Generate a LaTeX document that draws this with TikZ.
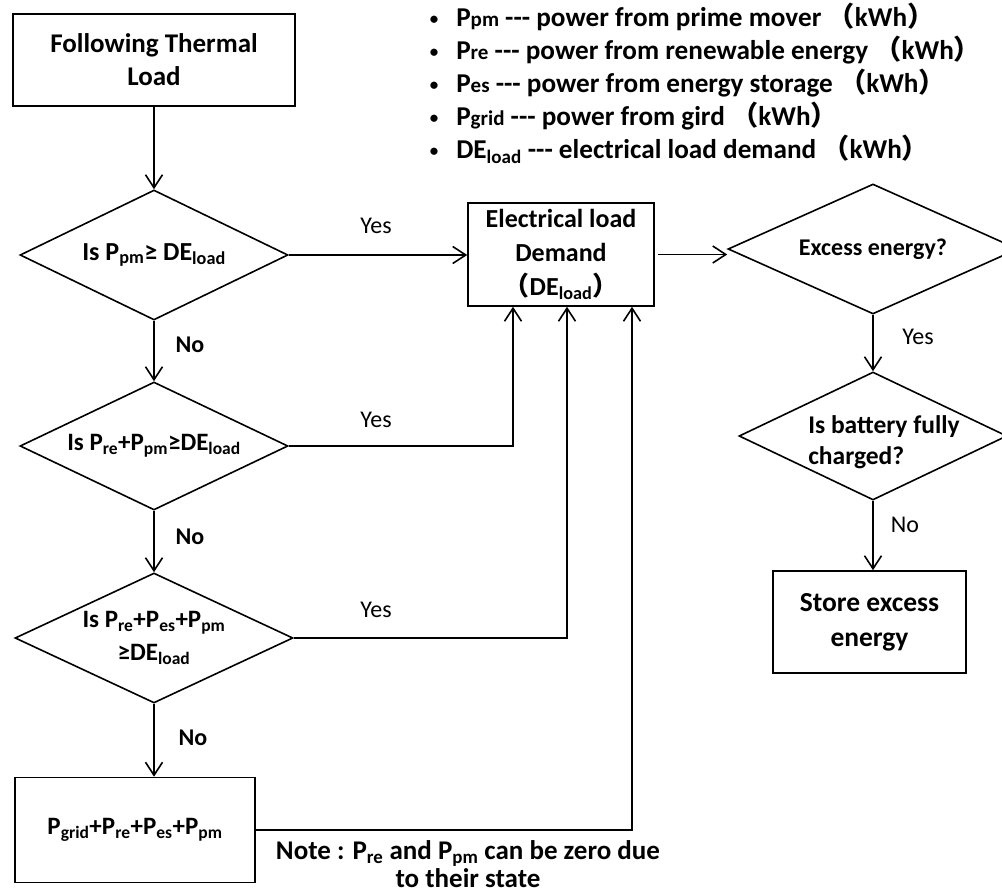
\documentclass[tikz,border=0pt]{standalone}
\usepackage{fontspec}
\setmainfont{Carlito}
\newfontfamily\cjk{Noto Sans CJK SC}
\usetikzlibrary{shapes.geometric,arrows.meta}
\newcommand\sbs[1]{\textsubscript{#1}}
\newcommand\smp[1]{{\fontsize{21}{22}\selectfont #1}}
\newcommand\bul{\raisebox{2pt}{\fontsize{17}{17}\selectfont\textbullet}\hspace{18pt}}
\begin{document}
\begin{tikzpicture}[x=1pt,y=-1pt,
  line width=1.6pt,
  box/.style={draw,rectangle,inner sep=0pt,font=\fontsize{27}{33}\selectfont\bfseries,align=center},
  dia/.style={draw,diamond,inner sep=0pt},
  dtext/.style={inner sep=0pt,font=\fontsize{24}{31}\selectfont\bfseries,align=center},
  arr/.style={-{Straight Barb[length=13pt,width=17pt,line width=1.6pt]}},
  yn/.style={inner sep=0pt,font=\fontsize{24}{28}\selectfont},
  ynb/.style={inner sep=0pt,font=\fontsize{24}{28}\selectfont\bfseries},
  leg/.style={anchor=west,inner sep=0pt,text height=18pt,text depth=5pt,font=\fontsize{27.2}{30}\selectfont\bfseries},
]
\useasboundingbox (0,0) rectangle (1002,896);

% legend
\node[leg] (l1) at (429,20) {\bul P\smp{pm} -{}-{}- power from prime mover {\cjk （}kWh{\cjk ）}};
\node[leg] (l2) at (429,53) {\bul P\smp{re} -{}-{}- power from renewable energy {\cjk （}kWh{\cjk ）}};
\node[leg] (l3) at (429,86) {\bul P\smp{es} -{}-{}- power from energy storage {\cjk （}kWh{\cjk ）}};
\node[leg] (l4) at (429,119) {\bul P\smp{grid} -{}-{}- power from gird {\cjk （}kWh{\cjk ）}};
\node[leg] (l5) at (429,152) {\bul DE\sbs{load} -{}-{}- electrical load demand {\cjk （}kWh{\cjk ）}};

% left column
\node[box,minimum width=282pt,minimum height=92pt] (ftl) at (154,60) {Following Thermal\\Load};
\node[dia,minimum width=268pt,minimum height=130pt] (d1) at (154,255) {};
\node[dtext,font=\fontsize{26}{31}\selectfont\bfseries] (d1t) at (d1.center) {Is P\sbs{pm}≥ DE\sbs{load}};
\node[dia,minimum width=268pt,minimum height=128pt] (d2) at (154,446) {};
\node[dtext,font=\fontsize{25}{31}\selectfont\bfseries] (d2t) at (d2.center) {Is P\sbs{re}+P\sbs{pm}≥DE\sbs{load}};
\node[dia,minimum width=278pt,minimum height=130pt] (d3) at (154,638) {};
\node[dtext,font=\fontsize{25}{33}\selectfont\bfseries] (d3t) at (d3.center) {Is P\sbs{re}+P\sbs{es}+P\sbs{pm}\\≥DE\sbs{load}};
\node[box,minimum width=240pt,minimum height=105pt,font=\fontsize{25}{30}\selectfont\bfseries] (gbox) at (135,830) {P\sbs{grid}+P\sbs{re}+P\sbs{es}+P\sbs{pm}};

% middle
\node[box,minimum width=186pt,minimum height=103pt,font=\fontsize{26}{34}\selectfont\bfseries] (elec) at (561,254.5) {Electrical load\\Demand\\{\cjk （}DE\sbs{load}{\cjk ）}};

% right column
\node[dia,minimum width=290pt,minimum height=130pt] (exc) at (873,249) {};
\node[dtext] (exct) at (exc.center) {Excess energy?};
\node[dia,minimum width=268pt,minimum height=128pt] (bat) at (873,436) {};
\node[dtext,align=left,font=\fontsize{25.5}{31}\selectfont\bfseries] (batt) at (884,442) {Is battery fully\\charged?};
\node[box,minimum width=193pt,minimum height=102pt,font=\fontsize{27.5}{35}\selectfont\bfseries] (store) at (869.5,622) {Store excess\\energy};

% connectors
\draw[arr] (ftl.south) -- (d1.north);
\draw[arr] (d1.south) -- (d2.north);
\draw[arr] (d2.south) -- (d3.north);
\draw[arr] (d3.south) -- (d3.south |- gbox.north);
\draw[arr] (d1.east) -- (d1.east -| elec.west);
\draw[arr] (d2.east) -| ([xshift=-48pt]elec.south);
\draw[arr] (d3.east) -| ([xshift=6pt]elec.south);
\draw[arr] (gbox.east) -| ([xshift=71pt]elec.south);
\draw[arr] ([xshift=3pt]elec.east) -- (elec.east -| exc.west);
\draw[arr] (exc.south) -- (bat.north);
\draw[arr] (bat.south) -- (bat.south |- store.north);

% labels
\node[ynb] (no1) at (190,345) {No};
\node[ynb] (no2) at (190,537) {No};
\node[ynb] (no3) at (193,738) {No};
\node[yn] (y1) at (376,226) {Yes};
\node[yn] (y2) at (376,420) {Yes};
\node[yn] (y3) at (376,610) {Yes};
\node[yn] (y4) at (918,337) {Yes};
\node[yn] (no4) at (905,525) {No};

\node[inner sep=0pt,font=\fontsize{27}{28}\selectfont\bfseries,align=center] (note) at (468,864) {Note : P\sbs{re} and P\sbs{pm} can be zero due\\to their state};
\end{tikzpicture}
\end{document}
